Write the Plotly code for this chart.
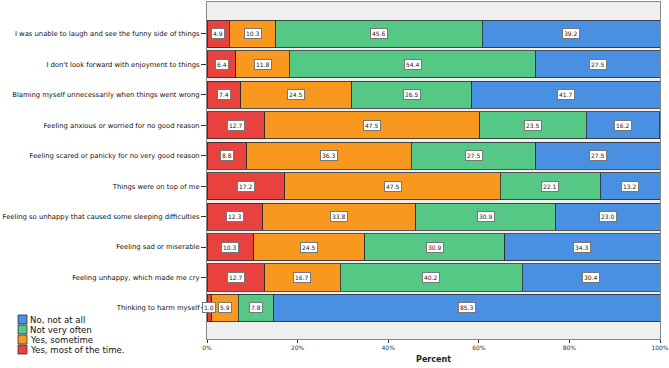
import plotly.graph_objects as go
import numpy as np

categories = [
    "I was unable to laugh and see the funny side of things",
    "I don't look forward with enjoyment to things",
    "Blaming myself unnecessarily when things went wrong",
    "Feeling anxious or worried for no good reason",
    "Feeling scared or panicky for no very good reason",
    "Things were on top of me",
    "Feeling so unhappy that caused some sleeping difficulties",
    "Feeling sad or miserable",
    "Feeling unhappy, which made me cry",
    "Thinking to harm myself",
]
most_time = [4.9, 6.4, 7.4, 12.7, 8.8, 17.2, 12.3, 10.3, 12.7, 1.0]
sometime = [10.3, 11.8, 24.5, 47.5, 36.3, 47.5, 33.8, 24.5, 16.7, 5.9]
not_often = [45.6, 54.4, 26.5, 23.5, 27.5, 22.1, 30.9, 30.9, 40.2, 7.8]
not_at_all = [39.2, 27.5, 41.7, 16.2, 27.5, 13.2, 23.0, 34.3, 30.4, 85.3]

series_names = ["Yes, most of the time.", "Yes, sometime", "Not very often", "No, not at all"]
series_vals = [most_time, sometime, not_often, not_at_all]
colors = ["#e8413e", "#f8981f", "#56c886", "#4a90e2"]
x_ticks = [0, 20, 40, 60, 80, 100]

fig = go.Figure()
for name, vals, col in zip(series_names, series_vals, colors):
    fig.add_trace(go.Bar(
        y=categories, x=vals, name=name, orientation="h",
        marker=dict(color=col, line=dict(color="#2b2b2b", width=0.8)),
        width=0.89, showlegend=False, hoverinfo="x+y+name",
    ))

# value labels
annotations = []
cum = np.zeros(len(categories))
for vals in series_vals:
    v = np.array(vals)
    mids = cum + v / 2
    for cat, m, val in zip(categories, mids, v):
        annotations.append(dict(
            x=m, y=cat, xref="x", yref="y", text=f"{val:.1f}", showarrow=False,
            font=dict(family="DejaVu Sans", size=6, color="#222"),
            bgcolor="white", bordercolor="#777", borderwidth=1, borderpad=1,
        ))
    cum = cum + v

# manual legend (compact spacing)
shapes = []
legend_order = list(zip(series_names, colors))[::-1]
for i, (name, col) in enumerate(legend_order):
    shapes.append(dict(type="rect", xref="paper", yref="paper",
                       x0=(18 - 207) / 453.0, x1=(27 - 207) / 453.0,
                       y0=1 - (313 + i * 10 + 9) / 337.0, y1=1 - (313 + i * 10) / 337.0,
                       fillcolor=col, line=dict(color="#333", width=0.8)))
    annotations.append(dict(x=(28 - 207) / 453.0, y=1 - (317.5 + i * 10) / 337.0,
                            xref="paper", yref="paper", xanchor="left", yanchor="middle",
                            text=name, showarrow=False,
                            font=dict(family="DejaVu Sans", size=8.6, color="#111")))

fig.update_layout(
    width=669, height=368,
    margin=dict(l=207, r=9, t=2, b=29),
    paper_bgcolor="white", plot_bgcolor="#efefef",
    barmode="stack", bargap=0.11,
    font=dict(family="DejaVu Sans", color="#222"),
    annotations=annotations, shapes=shapes,
    xaxis=dict(range=[0, 100], tickvals=x_ticks, ticktext=[f"{t}%" for t in x_ticks],
               automargin=False,
               showgrid=False, zeroline=False, ticks="outside", ticklen=3,
               tickcolor="#333", showline=True, linecolor="#888", mirror=True,
               tickfont=dict(size=6, color="#333"),
               title=dict(text="<b>Percent</b>", font=dict(size=8, color="#222"), standoff=6)),
    yaxis=dict(range=[10.02, -1.05], automargin=False,
               showgrid=False, zeroline=False, ticks="outside",
               ticklen=5, tickcolor="#333", showline=True, linecolor="#888", mirror=True,
               tickfont=dict(size=6.8, color="#111")),
)

fig.write_html("out.html")
